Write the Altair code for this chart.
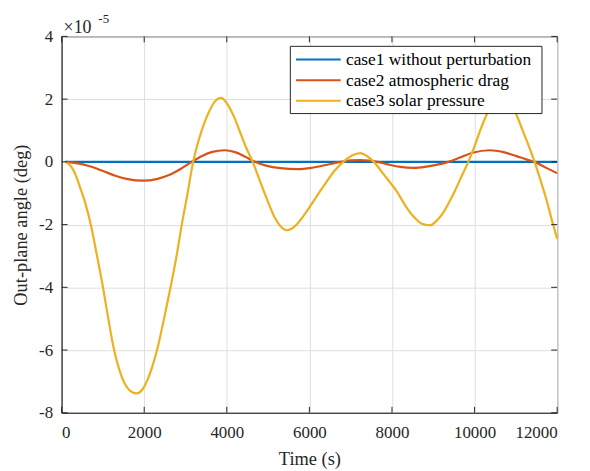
import altair as alt
import pandas as pd

# ---- data (values in units of 1e-5 deg) ----
time_case1 = [90, 12000]
case1 = [0, 0]

time_case2 = [90, 400, 700, 1000, 1300, 1600, 1976, 2300, 2600, 2900, 3150, 3400, 3650, 3944,
              4200, 4450, 4680, 4950, 5300, 5711, 6050, 6400, 6750, 7000, 7230, 7450, 7640,
              7900, 8200, 8530, 8800, 9100, 9366, 9650, 9950, 10370, 10700, 11000, 11250,
              11453, 11750, 12000]
case2 = [0, -0.05, -0.15, -0.29, -0.44, -0.55, -0.6, -0.55, -0.42, -0.21, 0, 0.19, 0.32, 0.37,
         0.31, 0.16, 0, -0.12, -0.2, -0.23, -0.19, -0.1, 0, 0.05, 0.06, 0.04, 0,
         -0.08, -0.16, -0.19, -0.16, -0.09, 0, 0.14, 0.29, 0.37, 0.31, 0.19, 0.08,
         0, -0.2, -0.36]

time_case3 = [90, 200, 300, 430, 570, 715, 850, 995, 1130, 1255, 1390, 1520, 1660, 1815,
              1960, 2080, 2190, 2320, 2480, 2645, 2790, 2910, 3050, 3185, 3310, 3430, 3570,
              3710, 3863, 4010, 4170, 4320, 4470, 4627, 4800, 4990, 5150, 5300, 5470, 5650,
              5870, 6100, 6355, 6600, 6820, 7030, 7236, 7400, 7560, 7800, 8120, 8350, 8525,
              8720, 8920, 9100, 9250, 9400, 9550, 9700, 9848, 10000, 10150, 10290, 10450,
              10650, 10850, 11014, 11150, 11300, 11453, 11600, 11740, 11870, 12000]
case3 = [0, -0.1, -0.3, -0.75, -1.3, -2.05, -2.95, -3.95, -5.0, -5.9, -6.6, -7.05, -7.3, -7.38,
         -7.25, -6.95, -6.55, -5.95, -5.0, -3.95, -2.95, -2.0, -1.0, 0, 0.65, 1.15, 1.6,
         1.92, 2.04, 1.85, 1.45, 0.95, 0.45, 0, -0.6, -1.25, -1.75, -2.05, -2.18, -2.05,
         -1.7, -1.25, -0.75, -0.3, 0, 0.2, 0.28, 0.18, 0, -0.4, -0.95, -1.45, -1.75,
         -1.97, -2.02, -1.85, -1.6, -1.25, -0.85, -0.42, 0, 0.5, 1.05, 1.5, 1.9,
         2.1, 1.9, 1.5, 1.05, 0.55, 0, -0.6, -1.2, -1.85, -2.45]

x_ticks = [0, 2000, 4000, 6000, 8000, 10000, 12000]
y_ticks = [-8, -6, -4, -2, 0, 2, 4]
legend_labels = ["case1 without perturbation", "case2 atmospheric drag", "case3 solar pressure"]
colors = ["#0072BD", "#D95319", "#EDB120"]

W, H = 499, 379
FONT = "Liberation Serif"
DARK = "#262626"

xs = alt.Scale(domain=[0, 12000], nice=False, zero=False)
ys = alt.Scale(domain=[-8, 4], nice=False, zero=False)

x_axis = alt.Axis(title="Time (s)", values=x_ticks, format="d", grid=True, ticks=False,
                  tickSize=0, labelPadding=25, labelBaseline="alphabetic",
                  titleY=52, titleBaseline="alphabetic")
y_axis = alt.Axis(title="Out-plane angle (deg)", values=y_ticks, labelExpr="toString(datum.value)",
                  grid=True, ticks=False, tickSize=0, labelPadding=9,
                  titleX=-41, titleY=H / 2, titleBaseline="middle", titleAngle=-90)

X = lambda: alt.X("t:Q", scale=xs, axis=x_axis)
Y = lambda: alt.Y("v:Q", scale=ys, axis=y_axis)


def line(t, v, color):
    df = pd.DataFrame({"t": t, "v": v})
    return alt.Chart(df).mark_line(color=color, strokeWidth=2.2, interpolate="monotone").encode(
        x=X(), y=Y())


layers = [
    line(time_case1, case1, colors[0]),
    line(time_case2, case2, colors[1]),
    line(time_case3, case3, colors[2]),
]

# inward ticks on all four sides
xt = pd.DataFrame({"t": x_ticks})
yt = pd.DataFrame({"v": y_ticks})
TL = 6
layers.append(alt.Chart(xt).mark_rule(color=DARK, strokeWidth=1).encode(
    x=X(), y=alt.value(H), y2=alt.value(H - TL)))
layers.append(alt.Chart(xt).mark_rule(color=DARK, strokeWidth=1).encode(
    x=X(), y=alt.value(0), y2=alt.value(TL)))
layers.append(alt.Chart(yt).mark_rule(color=DARK, strokeWidth=1).encode(
    y=Y(), x=alt.value(0), x2=alt.value(TL)))
layers.append(alt.Chart(yt).mark_rule(color=DARK, strokeWidth=1).encode(
    y=Y(), x=alt.value(W), x2=alt.value(W - TL)))

# legend
one = pd.DataFrame({"a": [0]})
layers.append(alt.Chart(one).mark_rect(fill="white", stroke=DARK, strokeWidth=1).encode(
    x=alt.value(230.3), x2=alt.value(483.7), y=alt.value(10), y2=alt.value(77.7)))
for i, (lab, col) in enumerate(zip(legend_labels, colors)):
    yy = 23.3 + 20.8 * i
    layers.append(alt.Chart(one).mark_rule(color=col, strokeWidth=2).encode(
        x=alt.value(236), x2=alt.value(281), y=alt.value(yy)))
    layers.append(alt.Chart(one).mark_text(text=lab, align="left", baseline="middle", font=FONT,
                                           fontSize=17.5, color="#000000").encode(
        x=alt.value(286.3), y=alt.value(yy + 0.5)))

# exponent label
layers.append(alt.Chart(one).mark_text(text="×10", align="left", baseline="alphabetic", font=FONT,
                                       fontSize=18, color=DARK).encode(
    x=alt.value(2), y=alt.value(-3)))
layers.append(alt.Chart(one).mark_text(text="-5", align="left", baseline="alphabetic", font=FONT,
                                       fontSize=13, color=DARK).encode(
    x=alt.value(37), y=alt.value(-13)))

chart = alt.layer(*layers).properties(
    width=W, height=H, autosize="none",
    padding={"left": 54, "top": 27, "right": 25, "bottom": 55},
).configure_view(stroke=DARK, strokeWidth=1).configure_axis(
    labelFont=FONT, labelFontSize=17, labelColor=DARK,
    titleFont=FONT, titleFontSize=18.5, titleColor=DARK, titleFontWeight="normal",
    domainColor=DARK, domainWidth=1, gridColor="#dfdfdf", gridWidth=1,
)

chart.save("out.html", embed_options={"renderer": "svg", "actions": False})
